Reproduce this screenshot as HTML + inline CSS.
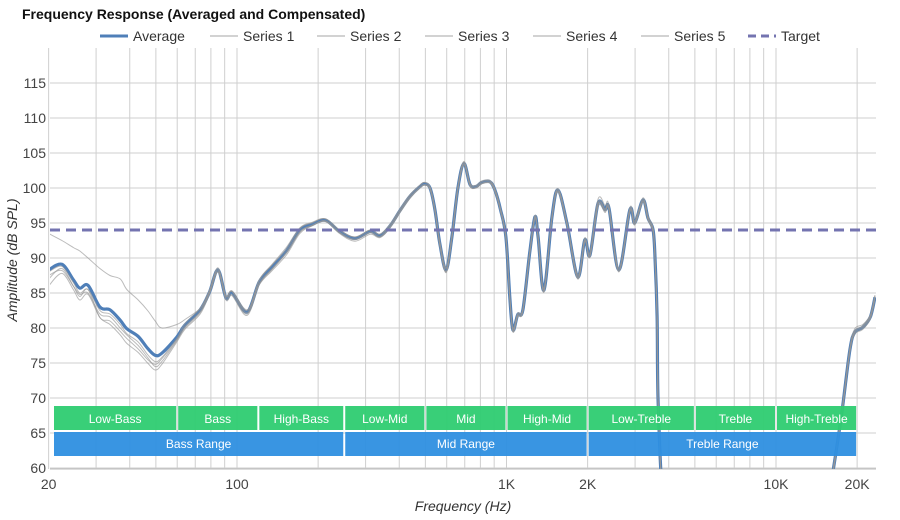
<!DOCTYPE html>
<html><head><meta charset="utf-8"><style>
html,body{margin:0;padding:0;background:#fff;font-family:"Liberation Sans",sans-serif;overflow:hidden;width:900px;height:520px}
svg{display:block;overflow:hidden}
svg text{font-family:"Liberation Sans",sans-serif}
</style></head><body>
<svg id="c" width="900" height="520" xmlns="http://www.w3.org/2000/svg">
<rect width="900" height="520" fill="#fff"/>
<text x="22" y="19" font-size="14" font-weight="bold" fill="#111">Frequency Response (Averaged and Compensated)</text>
<g id="legend"></g>
<g id="grid"></g>
<defs><clipPath id="clip"><rect x="50" y="48" width="826" height="421"/></clipPath></defs>
<g id="series" clip-path="url(#clip)"></g>
<g id="bands"></g>
<g id="labels"></g>
<text x="463" y="511" font-size="14" font-style="italic" text-anchor="middle" fill="#333">Frequency (Hz)</text>
<text transform="translate(17,260) rotate(-90)" font-size="14" font-style="italic" text-anchor="middle" fill="#333">Amplitude (dB SPL)</text>
</svg>
<script>
const freqs=[20,22.4,24.7,26.1,28,31,33.8,36.9,39,43,46.6,49.7,52.6,59.8,64,73,79,85,91,96,109,121,135,153,171,190,213,240,274,312,339,370,403,438,477,497,520,542,566,597,627,660,695,732,770,810,868,906,950,995,1030,1057,1100,1150,1222,1276,1310,1377,1475,1553,1675,1838,1953,2040,2186,2320,2400,2610,2870,2990,3210,3350,3500,3560,3620,3650,3780,4000,15500,16300,17600,18800,19600,21000,22400,23300];
const average=[88.3,89.1,86.9,85.7,86.1,83,82.6,81.1,79.9,78.8,77.1,76.1,76.4,78.7,80.4,82.6,85.1,88.3,84.3,85,82.3,86.6,88.7,91.1,94,94.8,95.4,93.8,92.8,93.8,93.2,94.6,96.8,98.8,100.2,100.6,100,97,92,88.3,93,100,103.5,100.5,100.2,100.8,100.9,99.7,96.9,93,84,79.7,81.9,82.6,91.1,95.9,93,85.4,95.9,99.7,95,87.3,92.6,90.4,97.8,96.9,97.1,88.3,96.9,95,98.3,95.7,94,89.7,81.6,70,57,55,55,59.7,68.3,76.9,79.4,80.1,81.6,84.4];
const series1=[93.5,92.5,91.5,91,90,88.5,87.5,87,85.5,84,82.5,81,80,80.5,81.2,82.8,85,88,84.6,85.3,82.6,86.2,88.2,90.5,93.5,94.6,95.2,93.5,92.4,93.4,92.9,94.3,96.5,98.5,100,100.4,99.8,96.7,91.6,88,92.7,99.7,103.7,100.3,100,100.6,100.8,99.5,96.7,92.7,83.7,79.4,81.6,82.4,90.8,95.6,92.6,85.1,95.6,99.4,94.7,87,92.3,90.8,98.4,97.5,97.5,88.6,97.2,95.3,98.6,96,94.3,90,81.9,70.3,57.3,55,55,60,68.6,77.2,79.9,80.5,81.9,84.7];
const series2=[87,88.5,86,84.5,85.5,81.5,81,79.5,78.5,77,75.5,74.8,75.6,78.3,80.2,82.4,85.3,88.6,84.6,85.2,82.2,86.8,89,91.3,94.2,95,95.6,94,93,94,93.4,94.8,97,99,100.4,100.8,100.2,97.2,92.3,88.6,93.3,100.3,103.8,100.7,100.4,101,101.1,99.9,97.1,93.2,84.3,80,82.1,82.8,91.3,96.1,93.2,85.7,96.1,99.9,95.2,87.6,92.9,90.1,97.3,96.5,96.8,88,96.6,94.7,98,95.4,93.7,89.4,81.3,69.7,56.7,55,55,59.4,68,76.6,79.1,79.8,81.3,84.1];
const series3=[86,87.8,85.5,84,84.8,81.5,80.5,79,77.8,76.5,75,74,74.8,78,79.8,82,84.8,88,84,84.6,81.8,86.2,88.4,90.8,93.7,94.6,95.3,93.6,92.6,93.6,93,94.4,96.6,98.6,100,100.4,99.8,96.8,91.8,87.9,92.8,99.8,103.3,100.3,100,100.6,100.7,99.5,96.7,92.8,83.8,79.5,81.7,82.4,90.9,95.7,92.8,85.2,95.7,99.5,94.8,87.1,92.4,90.2,97.6,96.7,96.9,88.1,96.7,94.8,98.1,95.5,93.8,89.5,81.4,69.8,56.8,55,55,59.5,68.1,76.7,79.6,80.3,81.8,84.6];
const series4=[88,88.8,86.5,85,85.5,82.5,82,80.5,79.2,78,76.2,75.2,75.8,78.5,80.6,82.8,85.4,88.4,84.5,85.2,82.5,86.9,89.1,91.6,94.3,95.1,95.6,94,93,94,93.4,94.8,97,99,100.4,100.8,100.1,97.1,92.1,88.5,93.2,100.2,103.6,100.6,100.3,100.9,101,99.8,97,93.1,84.1,79.8,82,82.7,91.2,96,93.1,85.5,96,99.8,95.1,87.4,92.7,90.5,97.9,97,97.2,88.4,97,95.1,98.4,95.8,94.1,89.8,81.7,70.1,57.1,55,55,59.8,68.4,77,79.5,80.2,81.7,84.5];
const series5=[87.5,88.2,86,84.8,85,82,81.6,80,79,77.5,75.8,74.5,75.2,78.2,80,82.2,85,88.2,84.2,84.8,82,86.4,88.5,90.9,93.8,94.7,95.3,93.7,92.7,93.7,93.1,94.5,96.7,98.7,100.1,100.5,99.9,96.9,91.9,88.1,92.9,99.9,103.4,100.4,100.1,100.7,100.8,99.6,96.8,92.9,83.9,79.6,81.8,82.5,91,95.8,92.9,85.3,95.8,99.6,94.9,87.2,92.5,90.3,97.7,96.8,97,88.2,96.8,94.9,98.2,95.6,93.9,89.6,81.5,69.9,56.9,55,55,59.6,68.2,76.8,79.3,80,81.5,84.3];
const seriesList=[series1,series2,series3,series4,series5];
const target=94;
const yTicks=[60,65,70,75,80,85,90,95,100,105,110,115];
const xTickLabels=["20","100","1K","2K","10K","20K"];
const xTickValues=[20,100,1000,2000,10000,20000];
const bandNames=["Low-Bass","Bass","High-Bass","Low-Mid","Mid","High-Mid","Low-Treble","Treble","High-Treble"];
const bandEdges=[20,60,120,250,500,1000,2000,5000,10000,20000];
const rangeNames=["Bass Range","Mid Range","Treble Range"];
const rangeEdges=[20,250,2000,20000];

const NS="http://www.w3.org/2000/svg";
const X=f=>506.5+(Math.log10(f)-3)*269.5;
const Y=v=>468-(v-60)*7;
function mk(tag,attrs,parent,txt){const e=document.createElementNS(NS,tag);for(const k in attrs)e.setAttribute(k,attrs[k]);if(txt!==undefined)e.textContent=txt;parent.appendChild(e);return e;}
const grid=document.getElementById('grid');
for(const v of yTicks){const l=mk('line',{x1:50,x2:876,y1:Y(v),y2:Y(v),stroke:'#cfcfcf','stroke-width':1},grid);

}
const vf=[];for(const d of [10,100,1000,10000])for(let k=1;k<10;k++){const f=d*k;if(f>=20&&f<=20000)vf.push(f);}
for(const f of vf){const l=mk('line',{x1:X(f),x2:X(f),y1:48,y2:469,stroke:'#cfcfcf','stroke-width':1},grid);

}
mk('line',{x1:50,x2:876,y1:469,y2:469,stroke:'#bbb'},grid);
const labels=document.getElementById('labels');
for(const v of yTicks){const t=mk('text',{x:46,y:Y(v)+5,'font-size':14,'text-anchor':'end',fill:'#444'},labels,String(v));

}
xTickValues.forEach((f,i)=>{const t=mk('text',{x:X(f),y:489,'font-size':14,'text-anchor':'middle',fill:'#444'},labels,xTickLabels[i]);

});
function pathFor(arr){const p=freqs.map((f,i)=>[X(f),Y(arr[i])]);let d='M'+p[0][0]+','+p[0][1];
for(let i=0;i<p.length-1;i++){const p0=p[i-1]||p[i],p1=p[i],p2=p[i+1],p3=p[i+2]||p2;
const c1=[p1[0]+(p2[0]-p0[0])/6,p1[1]+(p2[1]-p0[1])/6],c2=[p2[0]-(p3[0]-p1[0])/6,p2[1]-(p3[1]-p1[1])/6];
d+=` C${c1[0].toFixed(1)},${c1[1].toFixed(1)} ${c2[0].toFixed(1)},${c2[1].toFixed(1)} ${p2[0].toFixed(1)},${p2[1].toFixed(1)}`;}return d;}
const sg=document.getElementById('series');
const av=mk('path',{d:pathFor(average),fill:'none',stroke:'#4f7fb8','stroke-width':3.2},sg);


seriesList.forEach((s,i)=>{const p=mk('path',{d:pathFor(s),fill:'none',stroke:'rgba(150,150,150,0.65)','stroke-width':1},sg);

});
const tl=mk('line',{x1:50,x2:876,y1:Y(target),y2:Y(target),stroke:'#7474b0','stroke-width':3,'stroke-dasharray':'10,6'},sg);


const bands=document.getElementById('bands');
bandNames.forEach((n,i)=>{const x1=Math.max(X(bandEdges[i]),54)+(i?1:0),x2=X(bandEdges[i+1])-1;
const r=mk('rect',{x:x1,y:406,width:x2-x1,height:24,fill:'#2ecc71','fill-opacity':0.95},bands);


mk('text',{x:(x1+x2)/2,y:423,'font-size':12,'text-anchor':'middle',fill:'#fff'},bands,n);});
rangeNames.forEach((n,i)=>{const x1=Math.max(X(rangeEdges[i]),54)+(i?1:0),x2=X(rangeEdges[i+1])-1;
const r=mk('rect',{x:x1,y:432,width:x2-x1,height:24,fill:'#2e8fe0','fill-opacity':0.95},bands);


mk('text',{x:(x1+x2)/2,y:448,'font-size':12,'text-anchor':'middle',fill:'#fff'},bands,n);});
const lg=document.getElementById('legend');
const entries=[["Average",100,'#4f7fb8',3,''],["Series 1",210,'#c4c4c4',1.5,''],["Series 2",317,'#c4c4c4',1.5,''],["Series 3",425,'#c4c4c4',1.5,''],["Series 4",533,'#c4c4c4',1.5,''],["Series 5",641,'#c4c4c4',1.5,''],["Target",748,'#7474b0',3,'8,5']];
for(const e of entries){const g=mk('g',{},lg);


mk('line',{x1:e[1],x2:e[1]+28,y1:36,y2:36,stroke:e[2],'stroke-width':e[3],'stroke-dasharray':e[4]||'none'},g);
mk('text',{x:e[1]+33,y:41,'font-size':14,fill:'#333'},g,e[0]);}
</script>
</body></html>
